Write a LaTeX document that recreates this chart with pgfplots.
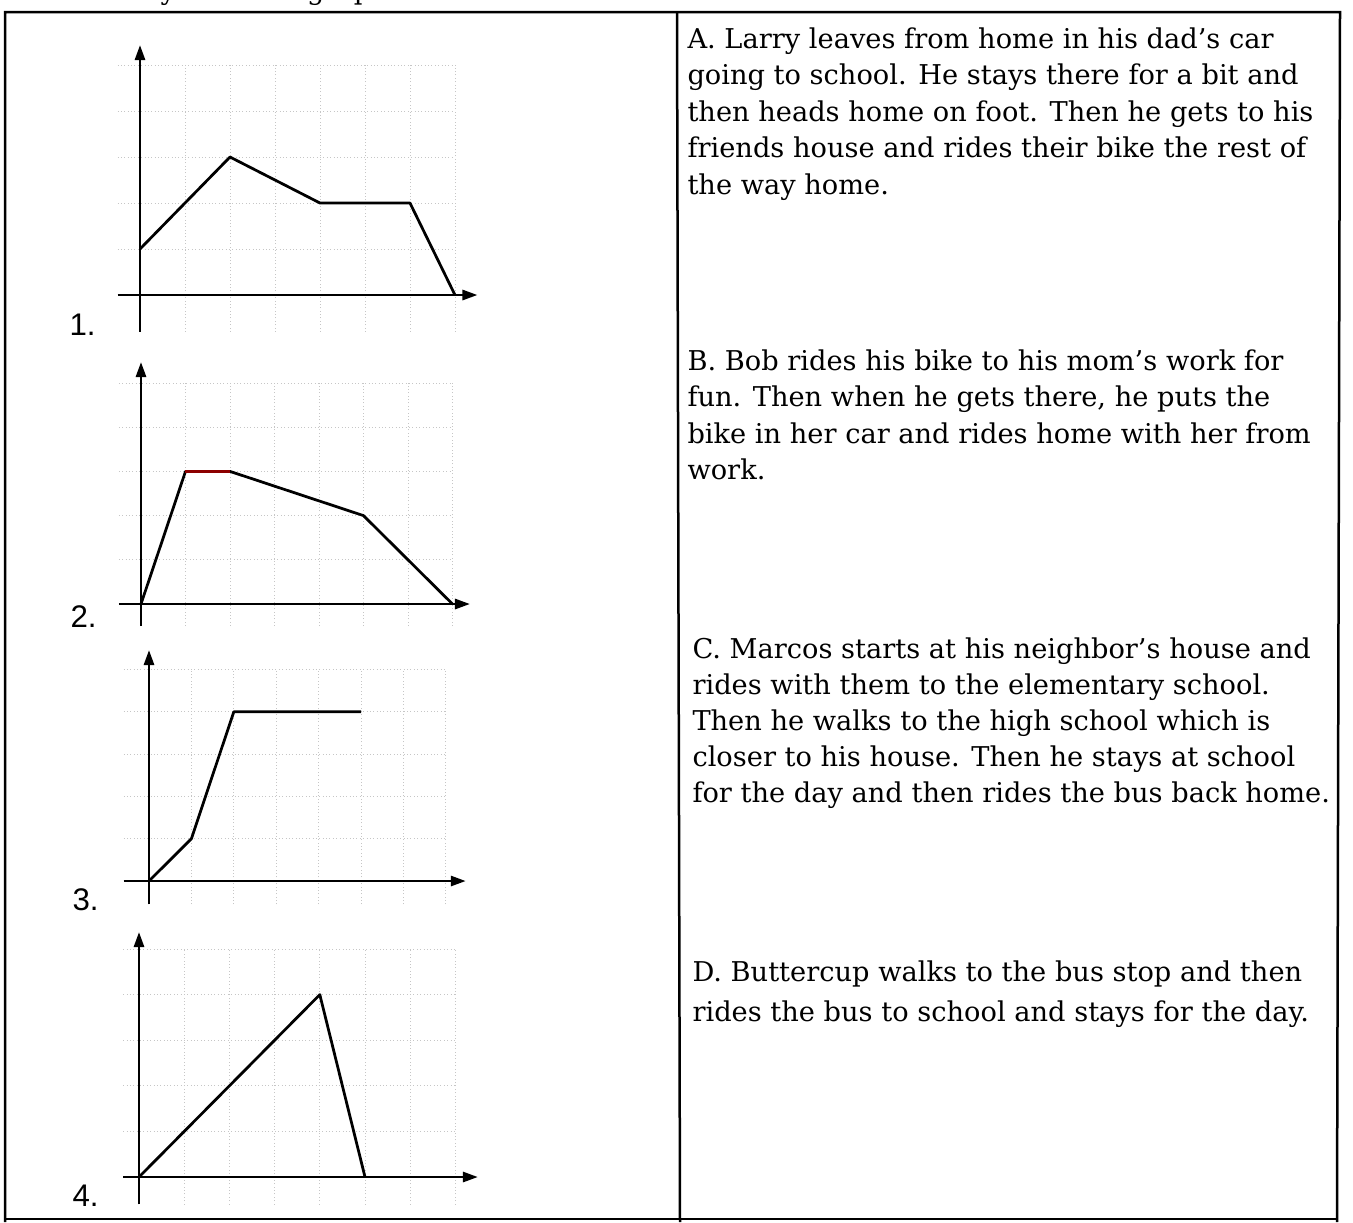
\documentclass[border=0pt]{standalone}
\usepackage{pgfplots}
\pgfplotsset{compat=1.18}
\usepackage{fontspec}
\setmainfont{DejaVu Serif}
\newfontfamily\numfont{Liberation Sans}
\usetikzlibrary{arrows.meta}

% shared look of the four distance-time sketches
\pgfplotsset{
  motion/.style={
    scale only axis,
    anchor=south west,
    axis lines=middle,
    xmax=7, ymax=5,
    xtick={0,...,7}, ytick={0,...,5},
    xticklabels={}, yticklabels={},
    major tick length=0pt,
    grid=major,
    grid style={gray!45, line width=0.35pt, densely dotted},
    clip=false,
  },
  trip/.style={black, line width=1.1pt, no markers, line join=round},
}

\newcommand{\bodytext}{\fontsize{10.9}{14}\selectfont}
\newcommand{\numtext}{\numfont\fontsize{12.5}{14}\selectfont}

\begin{document}
\begin{tikzpicture}[x=0.4pt,y=-0.4pt]
\useasboundingbox (0,0) rectangle (1353,1222);
\begin{scope}
\clip (0,0) rectangle (1353,1222);

% corners of the four plot areas
\coordinate (g1) at (117.5,331.8);
\coordinate (g2) at (118.75,626.1);
\coordinate (g3) at (123.56,904.27);
\coordinate (g4) at (123.18,1204.36);

% worksheet instruction (cut off at the top edge)
\node[anchor=base east, inner sep=0pt, font=\bodytext] at (412,-1) {Match each story with the graphs.};

% table frame
\draw[line width=1pt] (5,1222) -- (5,12) -- (1340,12) -- (1337,1222);
\draw[line width=1pt] (5,1219) -- (1337,1219);
\draw[line width=1pt] (677,12) -- (680,1222);

% ---------- graph 1 ----------
\begin{axis}[motion, at={(g1)},
  xmin=-0.5, ymin=-0.8, width=135pt, height=106.72pt,
  x axis line style={line width=1.1pt, -{Triangle[length=6pt,width=4pt]}, shorten >=-9pt},
  y axis line style={line width=1.1pt, -{Triangle[length=6pt,width=4pt]}, shorten >=-8pt}]
\addplot[trip] coordinates {(0,1) (2,3) (4,2) (6,2) (7,0)};
\end{axis}
\node[anchor=base west, inner sep=0pt, font=\numtext] at (69,335) {1.};

% ---------- graph 2 ----------
\begin{axis}[motion, at={(g2)},
  xmin=-0.5, ymin=-0.5, width=133.5pt, height=97.24pt,
  x axis line style={line width=1.1pt, -{Triangle[length=6pt,width=4pt]}, shorten >=-7pt},
  y axis line style={line width=1.1pt, -{Triangle[length=6pt,width=4pt]}, shorten >=-8.4pt}]
\addplot[trip] coordinates {(0,0) (1,3) (2,3) (5,2) (7,0)};
\addplot[red!55!black, line width=1.1pt, no markers] coordinates {(1,3) (2,3)};
\end{axis}
\node[anchor=base west, inner sep=0pt, font=\numtext] at (70,627) {2.};

% ---------- graph 3 ----------
\begin{axis}[motion, at={(g3)},
  xmin=-0.6, ymin=-0.55, width=128.9pt, height=93.91pt,
  x axis line style={line width=1.1pt, -{Triangle[length=6pt,width=4pt]}, shorten >=-8pt},
  y axis line style={line width=1.1pt, -{Triangle[length=6pt,width=4pt]}, shorten >=-7.8pt}]
\addplot[trip] coordinates {(0,0) (1,1) (2,4) (5,4)};
\end{axis}
\node[anchor=base west, inner sep=0pt, font=\numtext] at (72,910) {3.};

% ---------- graph 4 ----------
\begin{axis}[motion, at={(g4)},
  xmin=-0.35, ymin=-0.6, width=132.89pt, height=102.14pt,
  x axis line style={line width=1.1pt, -{Triangle[length=6pt,width=4pt]}, shorten >=-9pt},
  y axis line style={line width=1.1pt, -{Triangle[length=6pt,width=4pt]}, shorten >=-6.8pt}]
\addplot[trip] coordinates {(0,0) (4,4) (5,0)};
\end{axis}
\node[anchor=base west, inner sep=0pt, font=\numtext] at (72,1206) {4.};

% ---------- stories ----------
\begin{scope}[every node/.style={anchor=base west, inner sep=0pt, font=\bodytext}]
\node at (687,48)    {A. Larry leaves from home in his dad’s car};
\node at (687,84.6)  {going to school. He stays there for a bit and};
\node at (687,121.2) {then heads home on foot. Then he gets to his};
\node at (687,157.8) {friends house and rides their bike the rest of};
\node at (687,194.4) {the way home.};

\node at (687,370)   {B. Bob rides his bike to his mom’s work for};
\node at (687,406.6) {fun. Then when he gets there, he puts the};
\node at (687,443.2) {bike in her car and rides home with her from};
\node at (687,479.8) {work.};

\node at (692,658)   {C. Marcos starts at his neighbor’s house and};
\node at (692,694)   {rides with them to the elementary school.};
\node at (692,730)   {Then he walks to the high school which is};
\node at (692,766)   {closer to his house. Then he stays at school};
\node at (692,802)   {for the day and then rides the bus back home.};

\node at (692,981)   {D. Buttercup walks to the bus stop and then};
\node at (692,1021)  {rides the bus to school and stays for the day.};
\end{scope}

\end{scope}
\end{tikzpicture}
\end{document}
